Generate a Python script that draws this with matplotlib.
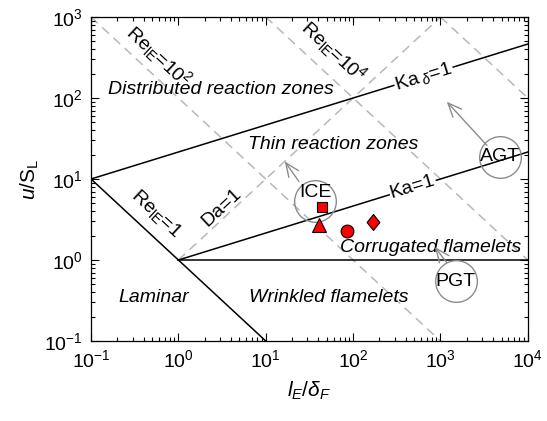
"""
Turbulent premixed combustion regime diagram (Borghi-type) with
engine / gas turbine operating points.
"""

import numpy as np
import matplotlib
matplotlib.use("Agg")
import matplotlib.pyplot as plt

# ============================== data =========================================

# regime boundaries, as (l_E/delta_F, u/S_L) end points
re1_x = [1e-1, 1e1]
re1_y = [1e1, 1e-1]
kad_x = [1e-1, 1e4]
kad_y = [1e1, 10 ** (2 + 2.0 / 3)]
ka_x = [1e0, 1e4]
ka_y = [1e0, 10 ** (4.0 / 3)]
u1_x = [1e0, 1e4]
u1_y = [1e0, 1e0]

# dashed iso-lines
da_x = [1e0, 1e3]
da_y = [1e0, 1e3]
re2_x = [1e-1, 1e3]
re2_y = [1e3, 1e-1]
re4_x = [1e1, 1e4]
re4_y = [1e3, 1e0]
re6_x = [1e3, 1e4]
re6_y = [1e3, 1e2]

# measured operating points
sq_x, sq_y = [44], [4.5]
tri_x, tri_y = [41], [2.7]
circ_x, circ_y = [86], [2.3]
dia_x, dia_y = [170], [2.95]

# application bubbles
app_names = ["ICE", "AGT", "PGT"]
app_x = [37, 4800, 1500]
app_y = [5.3, 18.7, 0.55]
# arrow tail / head per bubble
arr_tail = [(24, 9.3), (3400, 26), (1180, 0.93)]
arr_head = [(16.5, 16.5), (1180, 90), (860, 1.45)]

# ============================== main =========================================

def main():
    plt.rcParams.update({
        'font.family': 'Liberation Sans',
        'mathtext.fontset': 'custom',
        'mathtext.rm': 'Liberation Sans',
        'mathtext.it': 'Liberation Sans:italic',
        'mathtext.bf': 'Liberation Sans:bold',
        'font.size': 14,
    })

    fig = plt.figure(figsize=(5.47, 4.21), dpi=100)
    ax = fig.add_axes([0.1664, 0.19, 0.7986, 0.7696])
    ax.set_xscale('log')
    ax.set_yscale('log')
    ax.set_xlim(1e-1, 1e4)
    ax.set_ylim(1e-1, 1e3)

    gray = '#b8b8b8'
    dash = (0, (6, 4))
    for xs, ys in [(da_x, da_y), (re2_x, re2_y), (re4_x, re4_y), (re6_x, re6_y)]:
        ax.plot(xs, ys, color=gray, lw=1.1, ls=dash, zorder=1)

    for xs, ys in [(re1_x, re1_y), (kad_x, kad_y), (ka_x, ka_y), (u1_x, u1_y)]:
        ax.plot(xs, ys, color='black', lw=1.1, zorder=2)

    # operating points
    mk = dict(color='red', mec='black', mew=0.8, ls='none', zorder=5)
    ax.plot(sq_x, sq_y, marker='s', ms=7.5, **mk)
    ax.plot(tri_x, tri_y, marker='^', ms=10, **mk)
    ax.plot(circ_x, circ_y, marker='o', ms=9.2, **mk)
    ax.plot(dia_x, dia_y, marker=[(0, 1), (0.8, 0), (0, -1), (-0.8, 0), (0, 1)],
            ms=11.5, **mk)

    # application bubbles + arrows
    bub = '#8c8c8c'
    for name, x, y, t, h in zip(app_names, app_x, app_y, arr_tail, arr_head):
        ax.plot([x], [y], marker='o', ms=30, mfc='none', mec=bub, mew=1.0,
                ls='none', zorder=4)
        dy = 1.28 if name == "ICE" else 1.0
        ax.text(x, y * dy, name, ha='center', va='center', fontsize=14, zorder=6)
        ax.annotate('', xy=h, xytext=t,
                    arrowprops=dict(arrowstyle='->,head_length=0.7,head_width=0.3',
                                    color=bub, lw=1.0, shrinkA=0, shrinkB=0),
                    zorder=4)

    # line labels
    ax.text(0.6, 330, r'Re$_{\mathregular{lE}}$=10$^2$', rotation=-43,
            ha='center', va='center')
    ax.text(60, 380, r'Re$_{\mathregular{lE}}$=10$^4$', rotation=-43,
            ha='center', va='center')
    ax.text(0.55, 3.8, r'Re$_{\mathregular{lE}}$=1', rotation=-43,
            ha='center', va='center')
    ax.text(3.1, 4.4, 'Da=1', rotation=43, ha='center', va='center')
    ax.text(640, 185, r'Ka$_{\ \delta}$=1', rotation=17, ha='center', va='center',
            bbox=dict(fc='white', ec='none', pad=0.5), zorder=3)
    ax.text(480, 7.9, 'Ka=1', rotation=17, ha='center', va='center',
            bbox=dict(fc='white', ec='none', pad=0.5), zorder=3)

    # regime labels
    reg = dict(style='italic', ha='center', va='center')
    ax.text(3.1, 126, 'Distributed reaction zones', **reg)
    ax.text(59, 26.3, 'Thin reaction zones', **reg)
    ax.text(780, 1.41, 'Corrugated flamelets', **reg)
    ax.text(53, 0.34, 'Wrinkled flamelets', **reg)
    ax.text(0.52, 0.34, 'Laminar', **reg)

    ax.set_xlabel(r'$l_E/\delta_F$', fontsize=15, labelpad=6)
    ax.set_ylabel(r'$u$/S$_\mathregular{L}$', fontsize=15, labelpad=2)

    ax.tick_params(which='both', direction='in', top=True, right=True,
                   labelsize=14, width=0.8, pad=6)
    ax.tick_params(which='major', length=5.5)
    ax.tick_params(which='minor', length=3)
    for s in ax.spines.values():
        s.set_linewidth(0.9)

    plt.savefig('out.png', dpi=100)

if __name__ == "__main__":
    main()
